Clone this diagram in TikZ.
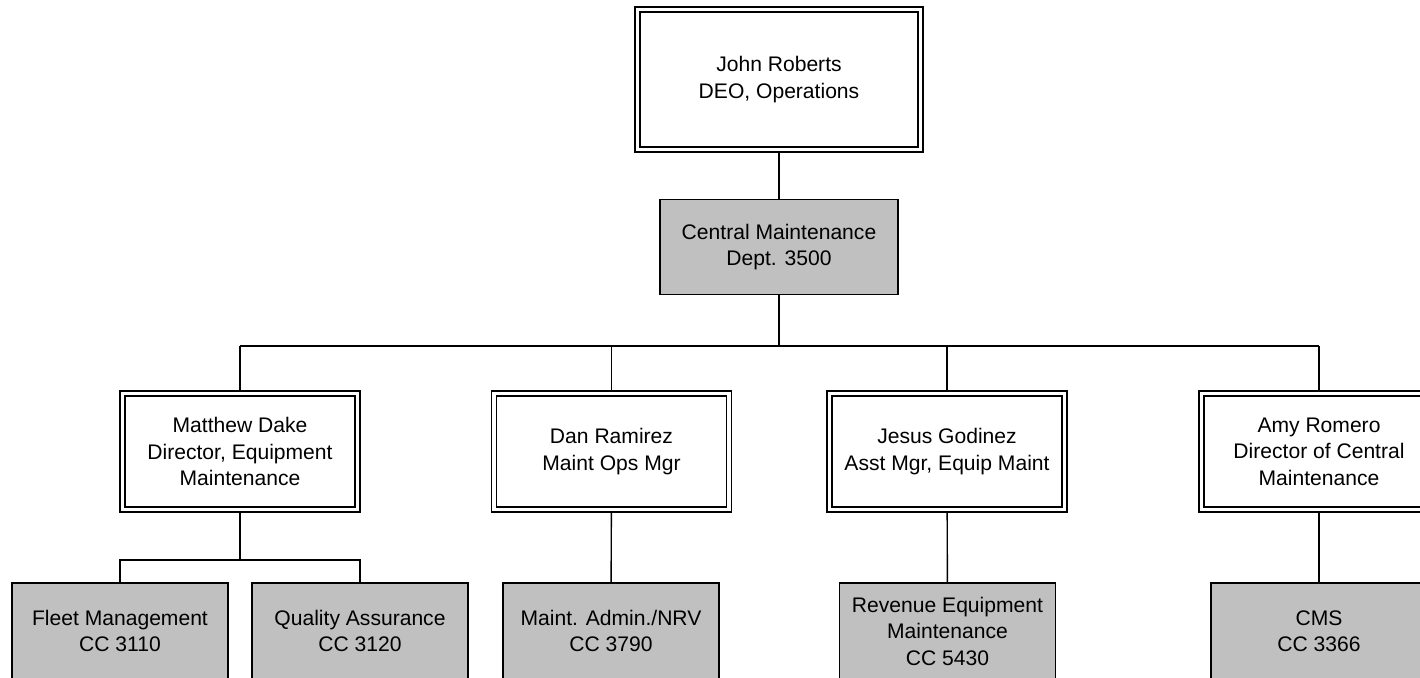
\documentclass[tikz,border=0pt]{standalone}
\usepackage{fontspec}
\setmainfont{Liberation Sans}
\usetikzlibrary{positioning,backgrounds}
\definecolor{deptgray}{HTML}{C0C0C0}
\tikzset{
  % personer
  pers/.style={rectangle,draw=black,line width=0.65pt,double=white,
               double distance=2.2pt,fill=white,align=center,inner sep=2pt,
               minimum width=4.7cm,minimum height=2.32cm},
  % avdelningar
  dept/.style={rectangle,draw=black,line width=0.8pt,fill=deptgray,
               align=center,inner sep=2pt,minimum width=4.32cm,minimum height=1.92cm},
  ln/.style={draw=black,line width=0.8pt},
  lnb/.style={draw=black,line width=1.3pt},
}
\begin{document}
\begin{tikzpicture}[x=0.02cm,y=-0.02cm,font=\fontsize{12pt}{15.1pt}\selectfont]
\useasboundingbox (0,0) rectangle (1420,677);
\clip (0,0) rectangle (1420,677);
  \node[pers,minimum width=5.66cm,minimum height=2.8cm] (jr) at (779,79.5)
    {John Roberts\\DEO, Operations};
  \node[dept,minimum width=4.76cm,minimum height=1.9cm] (cm) at (779,247)
    {Central Maintenance\\Dept. 3500};
  \coordinate (bar) at (779,346);
  \node[pers] (md) at (240,451.5) {Matthew Dake\\Director, Equipment\\Maintenance};
  \node[pers] (dr) at (611.5,451.5) {Dan Ramirez\\Maint Ops Mgr};
  \node[pers] (jg) at (947,451.5) {Jesus Godinez\\Asst Mgr, Equip Maint};
  \node[pers] (ar) at (1319,451.5) {Amy Romero\\Director of Central\\Maintenance};
  \coordinate (sub) at (240,560);
  \node[dept] (fm) at (120,631) {Fleet Management\\CC 3110};
  \node[dept] (qa) at (360,631) {Quality Assurance\\CC 3120};
  \node[dept] (na) at (611,631) {Maint. Admin./NRV\\CC 3790};
  \node[dept] (re) at (947.5,631) {Revenue Equipment\\Maintenance\\CC 5430};
  \node[dept] (cms) at (1319,631) {CMS\\CC 3366};
  \begin{scope}[on background layer]
    \draw[ln] (jr) -- (cm);
    \draw[lnb] (cm) -- (bar);
    \draw[ln] (bar -| md) -- (bar -| ar);
    \foreach \p in {md,dr,jg,ar}
      \draw[ln] (\p) -- (\p |- bar);
    \draw[ln] (md) -- (sub);
    \draw[ln] (fm) |- (sub) -| (qa);
    \draw[ln] (dr) -- (na);
    \draw[ln] (jg) -- (re);
    \draw[ln] (ar) -- (cms);
  \end{scope}
\end{tikzpicture}
\end{document}
